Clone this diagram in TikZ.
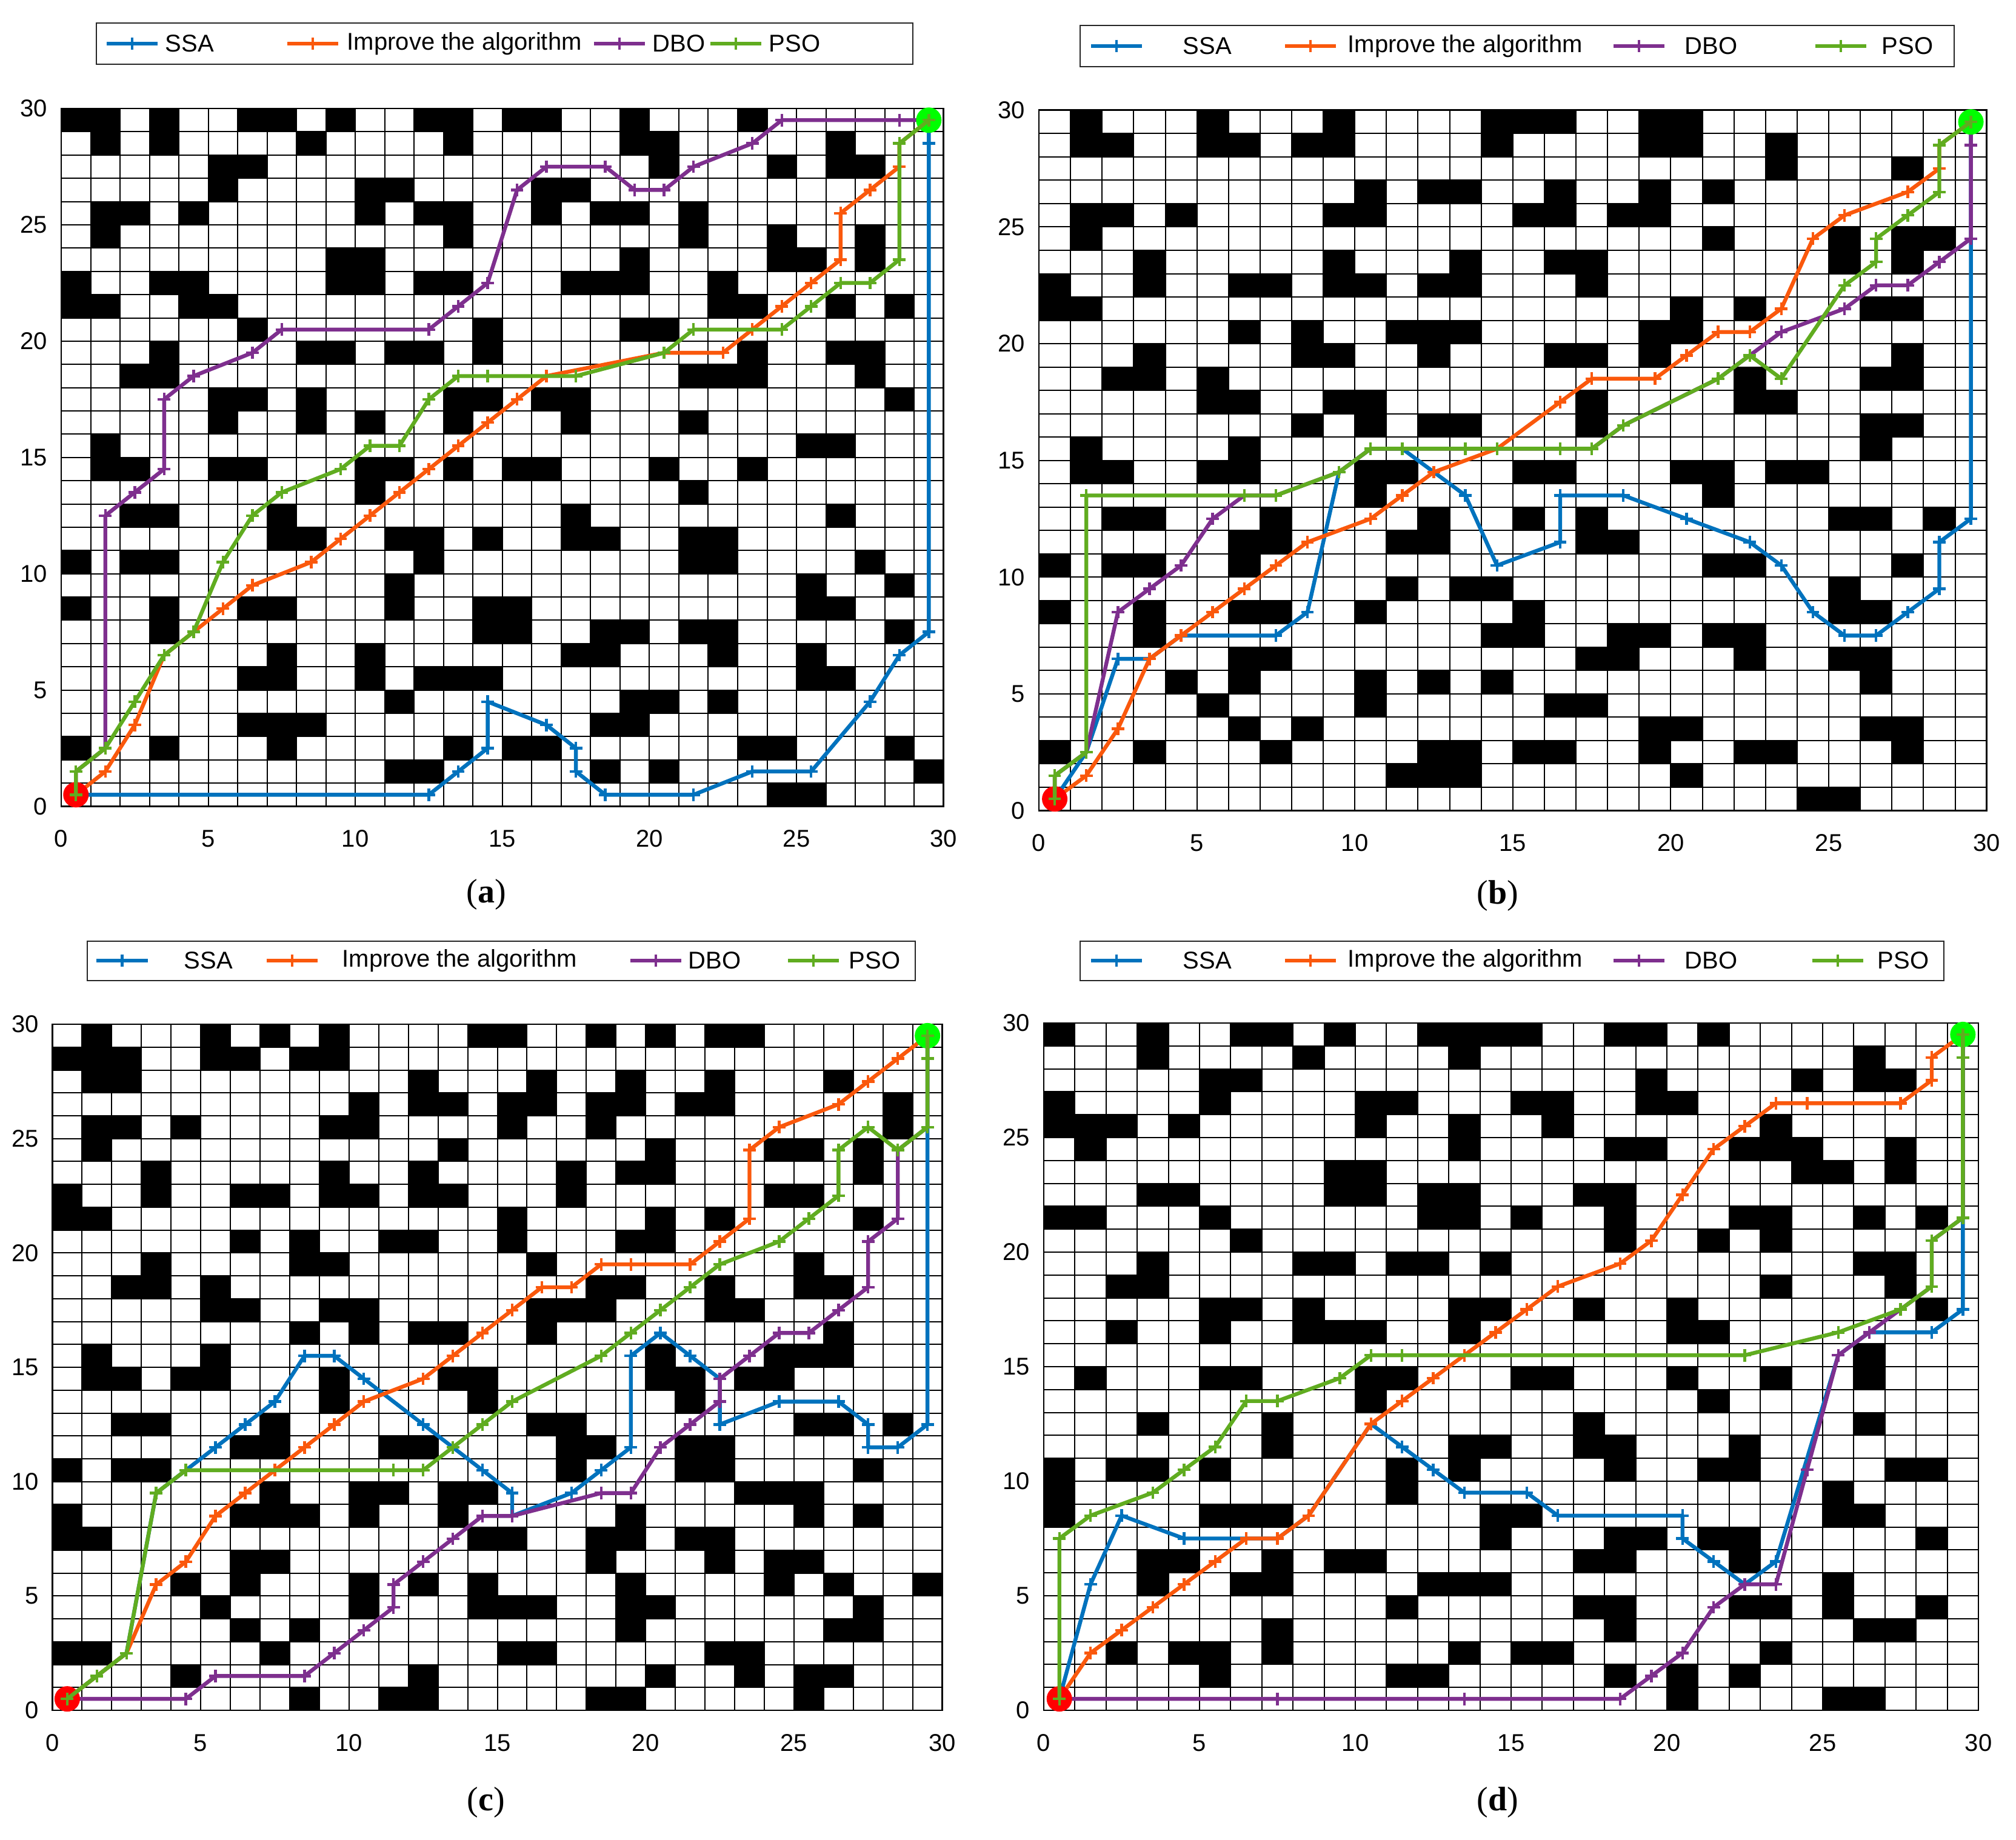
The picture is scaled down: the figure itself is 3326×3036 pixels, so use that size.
\documentclass[tikz,border=0pt]{standalone}
\usepackage{fontspec}
\setmainfont{Liberation Serif}
\setsansfont{Liberation Sans}
\definecolor{cSSA}{RGB}{0,114,189}
\definecolor{cIMP}{RGB}{250,88,12}
\definecolor{cDBO}{RGB}{126,47,142}
\definecolor{cPSO}{RGB}{96,172,32}
\definecolor{cStart}{RGB}{255,0,0}
\definecolor{cGoal}{RGB}{0,255,0}
\tikzset{
  gridline/.style={line width=0.5pt, black},
  frame/.style={line width=0.7pt, black},
  obst/.style={fill=black},
  route/.style={line width=1.6pt, line join=round, mark=+, mark size=2.6pt, mark options={line width=1.1pt}},
  ticklab/.style={font=\sffamily\fontsize{10}{12}\selectfont, inner sep=0pt},
  leglab/.style={font=\sffamily\fontsize{10}{12}\selectfont, inner sep=0pt, anchor=west},
  panlab/.style={font=\fontsize{14}{16}\selectfont, inner sep=0pt},
  legbox/.style={draw=black!85, line width=0.5pt, fill=white},
  startpt/.style={circle, fill=cStart, minimum size=10.5pt, inner sep=0pt},
  goalpt/.style={circle, fill=cGoal, minimum size=10.5pt, inner sep=0pt},
}
\newcommand\legitem[4]{%
  \draw[#1, line width=1.6pt] (#2,#4) -- (#3,#4);
  \draw[#1, line width=1.1pt] ({(#2+#3)/2-10.4},#4) -- ({(#2+#3)/2+10.4},#4)
     ({(#2+#3)/2},{#4-10.4}) -- ({(#2+#3)/2},{#4+10.4});
}
\newcommand\axesdecor[1]{%
  \foreach \i in {0,...,30} {\draw[gridline] (\i,0) -- (\i,30) (0,\i) -- (30,\i);}
  \draw[frame] (0,0) rectangle (30,30);
  \foreach \t in {0,5,...,30} {
    \node[ticklab, anchor=base, yshift=-16.75pt] (#1x\t) at (\t,0) {\t};
    \node[ticklab, anchor=east, xshift=-5.5pt] (#1y\t) at (0,\t) {\t};
  }
}
\begin{document}
\begin{tikzpicture}[x=0.25pt,y=-0.25pt]
\useasboundingbox (0,0) rectangle (3326,3036);
\fill[white] (0,0) rectangle (3326,3036);

%% ================= panel (a)
\begin{scope}[shift={(101,1330.5)},x=12.13pt,y=9.595pt]
\foreach \r/\a/\b in {29/0/1, 29/3/3, 29/6/7, 29/9/9, 29/12/13, 29/15/16, 29/19/19, 29/23/23,
28/1/1, 28/3/3, 28/8/8, 28/13/13, 28/19/20, 28/26/26,
27/5/6, 27/20/20, 27/24/24, 27/26/27,
26/5/5, 26/10/11, 26/16/17,
25/1/2, 25/4/4, 25/10/10, 25/12/13, 25/16/16, 25/18/19, 25/21/21,
24/1/1, 24/13/13, 24/21/21, 24/24/24, 24/27/27,
23/9/10, 23/19/19, 23/24/25, 23/27/27,
22/0/0, 22/3/4, 22/9/10, 22/12/13, 22/17/19, 22/22/22,
21/0/1, 21/4/5, 21/22/23, 21/26/26, 21/28/28,
20/6/6, 20/14/14, 20/19/20,
19/3/3, 19/8/9, 19/11/12, 19/14/14, 19/23/23, 19/26/27,
18/2/3, 18/21/23, 18/27/27,
17/5/6, 17/8/8, 17/13/14, 17/16/17, 17/28/28,
16/5/5, 16/8/8, 16/10/10, 16/13/13, 16/17/17, 16/21/21,
15/1/1, 15/25/26,
14/1/2, 14/5/6, 14/10/11, 14/13/13, 14/15/16, 14/20/20, 14/23/23,
13/10/10, 13/21/21,
12/2/3, 12/7/7, 12/17/17, 12/26/26,
11/7/8, 11/11/12, 11/14/14, 11/17/18, 11/21/22,
10/0/0, 10/2/3, 10/12/12, 10/21/22, 10/27/27,
9/11/11, 9/25/25, 9/28/28,
8/0/0, 8/3/3, 8/6/7, 8/11/11, 8/14/15, 8/25/26,
7/3/3, 7/14/15, 7/18/19, 7/21/22, 7/28/28,
6/7/7, 6/10/10, 6/17/18, 6/22/22, 6/25/25,
5/6/7, 5/10/10, 5/12/14, 5/25/26,
4/11/11, 4/19/20, 4/22/22,
3/6/8, 3/18/19,
2/0/0, 2/3/3, 2/7/7, 2/13/13, 2/15/16, 2/23/24, 2/28/28,
1/11/12, 1/18/18, 1/20/20, 1/29/29,
0/24/25}
  {\fill[obst] (\a,\r) rectangle ({\b+1},{\r+1});}
\axesdecor{a}
\draw[route,cSSA] plot coordinates {(0.5,0.5) (12.5,0.5) (13.5,1.5) (14.5,2.5) (14.5,4.5) (16.5,3.5) (17.5,2.5) (17.5,1.5) (18.5,0.5) (21.5,0.5) (23.5,1.5) (25.5,1.5) (27.5,4.5) (28.5,6.5) (29.5,7.5) (29.5,28.5) (29.5,29.5)};
\draw[route,cIMP] plot coordinates {(0.5,0.5) (1.5,1.5) (2.5,3.5) (3.5,6.5) (4.5,7.5) (5.5,8.5) (6.5,9.5) (8.5,10.5) (9.5,11.5) (10.5,12.5) (11.5,13.5) (12.5,14.5) (13.5,15.5) (14.5,16.5) (15.5,17.5) (16.5,18.5) (20.5,19.5) (22.5,19.5) (23.5,20.5) (24.5,21.5) (25.5,22.5) (26.5,23.5) (26.5,25.5) (27.5,26.5) (28.5,27.5) (28.5,28.5) (29.5,29.5)};
\draw[route,cDBO] plot coordinates {(0.5,0.5) (0.5,1.5) (1.5,2.5) (1.5,12.5) (2.5,13.5) (3.5,14.5) (3.5,17.5) (4.5,18.5) (6.5,19.5) (7.5,20.5) (12.5,20.5) (13.5,21.5) (14.5,22.5) (15.5,26.5) (16.5,27.5) (18.5,27.5) (19.5,26.5) (20.5,26.5) (21.5,27.5) (23.5,28.5) (24.5,29.5) (28.5,29.5) (29.5,29.5)};
\node[startpt] (aS) at (0.5,0.5) {};
\node[goalpt] (aG) at (29.5,29.5) {};
\draw[route,cPSO] plot coordinates {(0.5,0.5) (0.5,1.5) (1.5,2.5) (2.5,4.5) (3.5,6.5) (4.5,7.5) (5.5,10.5) (6.5,12.5) (7.5,13.5) (9.5,14.5) (10.5,15.5) (11.5,15.5) (12.5,17.5) (13.5,18.5) (14.5,18.5) (17.5,18.5) (20.5,19.5) (21.5,20.5) (24.5,20.5) (25.5,21.5) (26.5,22.5) (27.5,22.5) (28.5,23.5) (28.5,28.5) (29.5,29.5)};
\end{scope}

%% ================= panel (b)
\begin{scope}[shift={(1714,1337.5)},x=13.03pt,y=9.63pt]
\foreach \r/\a/\b in {29/1/1, 29/5/5, 29/9/9, 29/14/16, 29/19/20,
28/1/2, 28/5/6, 28/8/9, 28/14/14, 28/19/20, 28/23/23,
27/23/23, 27/27/27,
26/10/10, 26/12/13, 26/16/16, 26/19/19, 26/21/21,
25/1/2, 25/4/4, 25/9/10, 25/15/16, 25/18/19,
24/1/1, 24/21/21, 24/25/25, 24/27/28,
23/3/3, 23/9/9, 23/13/13, 23/16/17, 23/25/25, 23/27/27,
22/0/0, 22/3/3, 22/6/7, 22/9/10, 22/12/13, 22/17/17,
21/0/1, 21/20/20, 21/22/22, 21/26/27,
20/6/6, 20/8/8, 20/11/13, 20/19/20,
19/3/3, 19/8/9, 19/12/12, 19/16/17, 19/19/19, 19/27/27,
18/2/3, 18/5/5, 18/22/22, 18/26/27,
17/5/6, 17/9/10, 17/17/17, 17/22/23,
16/8/8, 16/10/10, 16/12/13, 16/17/17, 16/26/27,
15/1/1, 15/6/6, 15/26/26,
14/1/2, 14/5/6, 14/10/11, 14/15/16, 14/20/21, 14/23/24,
13/10/10, 13/21/21,
12/2/3, 12/7/7, 12/12/12, 12/15/15, 12/17/17, 12/25/26, 12/28/28,
11/6/7, 11/11/12, 11/17/18,
10/0/0, 10/2/3, 10/6/6, 10/21/22, 10/27/27,
9/11/11, 9/13/14, 9/25/25,
8/0/0, 8/3/3, 8/6/7, 8/10/10, 8/15/15, 8/25/26,
7/3/3, 7/14/15, 7/18/19, 7/21/22,
6/6/7, 6/17/18, 6/22/22, 6/25/26,
5/4/4, 5/6/6, 5/10/10, 5/12/12, 5/14/14, 5/26/26,
4/5/5, 4/10/10, 4/16/17,
3/6/6, 3/8/8, 3/19/20, 3/26/27,
2/0/0, 2/3/3, 2/7/7, 2/12/13, 2/15/16, 2/19/19, 2/22/23, 2/27/27,
1/11/13, 1/20/20,
0/24/25}
  {\fill[obst] (\a,\r) rectangle ({\b+1},{\r+1});}
\axesdecor{b}
\draw[route,cSSA] plot coordinates {(0.5,0.5) (1.5,2.5) (2.5,6.5) (3.5,6.5) (4.5,7.5) (7.5,7.5) (8.5,8.5) (9.5,14.5) (10.5,15.5) (11.5,15.5) (12.5,14.5) (13.5,13.5) (14.5,10.5) (16.5,11.5) (16.5,13.5) (18.5,13.5) (20.5,12.5) (22.5,11.5) (23.5,10.5) (24.5,8.5) (25.5,7.5) (26.5,7.5) (27.5,8.5) (28.5,9.5) (28.5,11.5) (29.5,12.5) (29.5,28.5) (29.5,29.5)};
\draw[route,cIMP] plot coordinates {(0.5,0.5) (1.5,1.5) (2.5,3.5) (3.5,6.5) (4.5,7.5) (5.5,8.5) (6.5,9.5) (7.5,10.5) (8.5,11.5) (10.5,12.5) (11.5,13.5) (12.5,14.5) (14.5,15.5) (16.5,17.5) (17.5,18.5) (19.5,18.5) (20.5,19.5) (21.5,20.5) (22.5,20.5) (23.5,21.5) (24.5,24.5) (25.5,25.5) (27.5,26.5) (28.5,27.5) (28.5,28.5) (29.5,29.5)};
\draw[route,cDBO] plot coordinates {(0.5,0.5) (0.5,1.5) (1.5,2.5) (2.5,8.5) (3.5,9.5) (4.5,10.5) (5.5,12.5) (6.5,13.5) (7.5,13.5) (9.5,14.5) (10.5,15.5) (17.5,15.5) (18.5,16.5) (21.5,18.5) (22.5,19.5) (23.5,20.5) (25.5,21.5) (26.5,22.5) (27.5,22.5) (28.5,23.5) (29.5,24.5) (29.5,28.5) (29.5,29.5)};
\node[startpt] (bS) at (0.5,0.5) {};
\node[goalpt] (bG) at (29.5,29.5) {};
\draw[route,cPSO] plot coordinates {(0.5,0.5) (0.5,1.5) (1.5,2.5) (1.5,13.5) (6.5,13.5) (7.5,13.5) (9.5,14.5) (10.5,15.5) (11.5,15.5) (13.5,15.5) (14.5,15.5) (16.5,15.5) (17.5,15.5) (18.5,16.5) (21.5,18.5) (22.5,19.5) (23.5,18.5) (25.5,22.5) (26.5,23.5) (26.5,24.5) (27.5,25.5) (28.5,26.5) (28.5,28.5) (29.5,29.5)};
\end{scope}

%% ================= panel (c)
\begin{scope}[shift={(86.4,2822)},x=12.235pt,y=9.433pt]
\foreach \r/\a/\b in {29/1/1, 29/5/5, 29/7/7, 29/9/9, 29/14/15, 29/18/18, 29/20/20, 29/22/23,
28/0/2, 28/5/6, 28/8/9,
27/1/2, 27/12/12, 27/16/16, 27/19/19, 27/22/22, 27/26/26,
26/10/10, 26/12/13, 26/15/16, 26/18/19, 26/21/22, 26/28/28,
25/1/2, 25/4/4, 25/9/10, 25/15/15, 25/18/18, 25/28/28,
24/1/1, 24/13/13, 24/20/20, 24/24/25, 24/27/27,
23/3/3, 23/9/9, 23/12/12, 23/17/17, 23/19/20, 23/27/27,
22/0/0, 22/3/3, 22/6/7, 22/9/10, 22/12/13, 22/17/17, 22/24/25,
21/0/1, 21/15/15, 21/20/20, 21/22/22, 21/27/27,
20/6/6, 20/8/8, 20/11/12, 20/15/15, 20/19/20,
19/3/3, 19/8/9, 19/16/16, 19/25/25,
18/2/3, 18/5/5, 18/18/19, 18/22/22, 18/25/26,
17/5/6, 17/9/10, 17/16/18, 17/22/23,
16/8/8, 16/10/10, 16/12/13, 16/16/16, 16/26/26,
15/1/1, 15/5/5, 15/20/20, 15/24/26,
14/1/2, 14/4/5, 14/9/9, 14/13/14, 14/20/21, 14/23/24,
13/9/9, 13/14/14, 13/21/21,
12/2/3, 12/7/7, 12/16/17, 12/25/26, 12/28/28,
11/6/7, 11/11/12, 11/17/18, 11/21/22,
10/0/0, 10/2/3, 10/17/17, 10/21/22, 10/27/27,
9/7/7, 9/10/11, 9/13/14, 9/23/25,
8/0/0, 8/6/8, 8/10/10, 8/13/13, 8/19/19, 8/25/25, 8/27/27,
7/0/1, 7/14/15, 7/18/19, 7/21/22,
6/6/7, 6/18/18, 6/22/22, 6/24/25,
5/4/4, 5/6/6, 5/10/10, 5/12/12, 5/14/14, 5/19/19, 5/24/24, 5/26/26, 5/29/29,
4/5/5, 4/10/10, 4/14/16, 4/19/20, 4/27/27,
3/6/6, 3/8/8, 3/19/19, 3/26/27,
2/0/1, 2/7/7, 2/15/16, 2/22/23,
1/4/4, 1/12/12, 1/20/20, 1/23/23, 1/25/26,
0/8/8, 0/11/12, 0/18/19, 0/25/25}
  {\fill[obst] (\a,\r) rectangle ({\b+1},{\r+1});}
\axesdecor{c}
\draw[route,cSSA] plot coordinates {(0.5,0.5) (1.5,1.5) (2.5,2.5) (3.5,9.5) (4.5,10.5) (5.5,11.5) (6.5,12.5) (7.5,13.5) (8.5,15.5) (9.5,15.5) (10.5,14.5) (12.5,12.5) (14.5,10.5) (15.5,9.5) (15.5,8.5) (17.5,9.5) (18.5,10.5) (19.5,11.5) (19.5,15.5) (20.5,16.5) (21.5,15.5) (22.5,14.5) (22.5,12.5) (24.5,13.5) (26.5,13.5) (27.5,12.5) (27.5,11.5) (28.5,11.5) (29.5,12.5) (29.5,28.5) (29.5,29.5)};
\draw[route,cIMP] plot coordinates {(0.5,0.5) (2.5,2.5) (3.5,5.5) (4.5,6.5) (5.5,8.5) (6.5,9.5) (7.5,10.5) (8.5,11.5) (9.5,12.5) (10.5,13.5) (12.5,14.5) (13.5,15.5) (14.5,16.5) (15.5,17.5) (16.5,18.5) (17.5,18.5) (18.5,19.5) (19.5,19.5) (21.5,19.5) (22.5,20.5) (23.5,21.5) (23.5,24.5) (24.5,25.5) (26.5,26.5) (27.5,27.5) (28.5,28.5) (29.5,29.5)};
\draw[route,cDBO] plot coordinates {(0.5,0.5) (4.5,0.5) (5.5,1.5) (8.5,1.5) (9.5,2.5) (10.5,3.5) (11.5,4.5) (11.5,5.5) (12.5,6.5) (13.5,7.5) (14.5,8.5) (15.5,8.5) (18.5,9.5) (19.5,9.5) (20.5,11.5) (21.5,12.5) (22.5,13.5) (22.5,14.5) (23.5,15.5) (24.5,16.5) (25.5,16.5) (26.5,17.5) (27.5,18.5) (27.5,20.5) (28.5,21.5) (28.5,24.5) (29.5,25.5) (29.5,29.5)};
\node[startpt] (cS) at (0.5,0.5) {};
\node[goalpt] (cG) at (29.5,29.5) {};
\draw[route,cPSO] plot coordinates {(0.5,0.5) (1.5,1.5) (2.5,2.5) (3.5,9.5) (4.5,10.5) (11.5,10.5) (12.5,10.5) (13.5,11.5) (14.5,12.5) (15.5,13.5) (18.5,15.5) (19.5,16.5) (20.5,17.5) (21.5,18.5) (22.5,19.5) (24.5,20.5) (25.5,21.5) (26.5,22.5) (26.5,24.5) (27.5,25.5) (28.5,24.5) (29.5,25.5) (29.5,28.5) (29.5,29.5)};
\end{scope}

%% ================= panel (d)
\begin{scope}[shift={(1722,2822)},x=12.85pt,y=9.45pt]
\foreach \r/\a/\b in {29/0/0, 29/3/3, 29/6/7, 29/9/9, 29/12/15, 29/18/19, 29/21/21,
28/3/3, 28/8/8, 28/13/13, 28/26/26,
27/5/6, 27/19/19, 27/24/24, 27/26/27,
26/0/0, 26/5/5, 26/10/11, 26/15/16, 26/19/20,
25/0/2, 25/4/4, 25/10/10, 25/13/13, 25/16/16, 25/23/23,
24/1/1, 24/13/13, 24/18/19, 24/22/24, 24/27/27,
23/9/10, 23/24/25, 23/27/27,
22/3/4, 22/9/10, 22/12/13, 22/17/18,
21/0/1, 21/5/5, 21/12/13, 21/15/15, 21/18/18, 21/22/23, 21/26/26, 21/28/28,
20/6/6, 20/18/18, 20/21/21, 20/23/23,
19/3/3, 19/8/9, 19/11/12, 19/14/14, 19/26/27,
18/2/3, 18/23/23, 18/27/27,
17/5/6, 17/8/8, 17/13/14, 17/17/17, 17/20/20, 17/28/28,
16/2/2, 16/5/5, 16/8/10, 16/13/13, 16/20/21,
15/26/26,
14/1/1, 14/5/6, 14/10/11, 14/15/16, 14/20/20, 14/23/23, 14/26/26,
13/10/10, 13/21/21,
12/3/3, 12/7/7, 12/17/17, 12/26/26,
11/7/7, 11/13/14, 11/17/18, 11/22/22,
10/0/0, 10/2/3, 10/5/5, 10/11/11, 10/13/13, 10/18/18, 10/21/22, 10/27/28,
9/0/0, 9/11/11, 9/25/25,
8/0/0, 8/5/7, 8/14/15, 8/25/26,
7/14/14, 7/18/19, 7/21/22, 7/28/28,
6/3/4, 6/7/7, 6/9/10, 6/17/18, 6/22/22,
5/3/3, 5/6/7, 5/12/14, 5/25/25,
4/11/11, 4/17/18, 4/22/23, 4/25/25, 4/28/28,
3/7/7, 3/18/18, 3/26/27,
2/2/2, 2/4/5, 2/7/7, 2/13/13, 2/15/16, 2/23/23,
1/5/5, 1/11/12, 1/18/18, 1/20/20, 1/22/22,
0/20/20, 0/25/26}
  {\fill[obst] (\a,\r) rectangle ({\b+1},{\r+1});}
\axesdecor{d}
\draw[route,cSSA] plot coordinates {(0.5,0.5) (1.5,5.5) (2.5,8.5) (4.5,7.5) (6.5,7.5) (7.5,7.5) (8.5,8.5) (10.5,12.5) (11.5,11.5) (12.5,10.5) (13.5,9.5) (15.5,9.5) (16.5,8.5) (20.5,8.5) (20.5,7.5) (21.5,6.5) (22.5,5.5) (23.5,6.5) (25.5,15.5) (26.5,16.5) (28.5,16.5) (29.5,17.5) (29.5,28.5) (29.5,29.5)};
\draw[route,cIMP] plot coordinates {(0.5,0.5) (1.5,2.5) (2.5,3.5) (3.5,4.5) (4.5,5.5) (5.5,6.5) (6.5,7.5) (7.5,7.5) (8.5,8.5) (10.5,12.5) (11.5,13.5) (12.5,14.5) (13.5,15.5) (14.5,16.5) (15.5,17.5) (16.5,18.5) (18.5,19.5) (19.5,20.5) (20.5,22.5) (21.5,24.5) (22.5,25.5) (23.5,26.5) (24.5,26.5) (27.5,26.5) (28.5,27.5) (28.5,28.5) (29.5,29.5)};
\draw[route,cDBO] plot coordinates {(0.5,0.5) (7.5,0.5) (13.5,0.5) (18.5,0.5) (19.5,1.5) (20.5,2.5) (21.5,4.5) (22.5,5.5) (23.5,5.5) (24.5,10.5) (25.5,15.5) (26.5,16.5) (27.5,17.5) (28.5,18.5) (28.5,20.5) (29.5,21.5) (29.5,29.5)};
\node[startpt] (dS) at (0.5,0.5) {};
\node[goalpt] (dG) at (29.5,29.5) {};
\draw[route,cPSO] plot coordinates {(0.5,0.5) (0.5,7.5) (1.5,8.5) (3.5,9.5) (4.5,10.5) (5.5,11.5) (6.5,13.5) (7.5,13.5) (9.5,14.5) (10.5,15.5) (11.5,15.5) (22.5,15.5) (25.5,16.5) (27.5,17.5) (28.5,18.5) (28.5,20.5) (29.5,21.5) (29.5,28.5) (29.5,29.5)};
\end{scope}

%% ================= legends
\draw[legbox] (159,38) rectangle (1506,106);
\legitem{cSSA}{176}{260}{72}  \node[leglab] (la1) at (272,72) {SSA};
\legitem{cIMP}{474}{558}{72}  \node[leglab] (la2) at (572,72) {Improve the algorithm};
\legitem{cDBO}{980}{1064}{72} \node[leglab] (la3) at (1076,72) {DBO};
\legitem{cPSO}{1172}{1256}{72} \node[leglab] (la4) at (1268,72) {PSO};

\draw[legbox] (1782,42) rectangle (3224,110);
\legitem{cSSA}{1800}{1884}{76}  \node[leglab] (lb1) at (1951,76) {SSA};
\legitem{cIMP}{2120}{2204}{76}  \node[leglab] (lb2) at (2223,76) {Improve the algorithm};
\legitem{cDBO}{2662}{2746}{76}  \node[leglab] (lb3) at (2779,76) {DBO};
\legitem{cPSO}{2995}{3079}{76}  \node[leglab] (lb4) at (3104,76) {PSO};

\draw[legbox] (144,1553) rectangle (1510,1618);
\legitem{cSSA}{159}{244}{1585}  \node[leglab] (lc1) at (303,1585) {SSA};
\legitem{cIMP}{440}{524}{1585}  \node[leglab] (lc2) at (564,1585) {Improve the algorithm};
\legitem{cDBO}{1040}{1124}{1585} \node[leglab] (lc3) at (1135,1585) {DBO};
\legitem{cPSO}{1300}{1384}{1585} \node[leglab] (lc4) at (1400,1585) {PSO};

\draw[legbox] (1782,1553) rectangle (3207,1618);
\legitem{cSSA}{1800}{1884}{1585}  \node[leglab] (ld1) at (1951,1585) {SSA};
\legitem{cIMP}{2120}{2204}{1585}  \node[leglab] (ld2) at (2223,1585) {Improve the algorithm};
\legitem{cDBO}{2662}{2746}{1585}  \node[leglab] (ld3) at (2779,1585) {DBO};
\legitem{cPSO}{2990}{3074}{1585}  \node[leglab] (ld4) at (3097,1585) {PSO};

%% ================= panel labels
\node[panlab] (laba) at (802,1476) {(\textbf{a})};
\node[panlab] (labb) at (2471,1478) {(\textbf{b})};
\node[panlab] (labc) at (802,2974) {(\textbf{c})};
\node[panlab] (labd) at (2471,2974) {(\textbf{d})};
\end{tikzpicture}
\end{document}
